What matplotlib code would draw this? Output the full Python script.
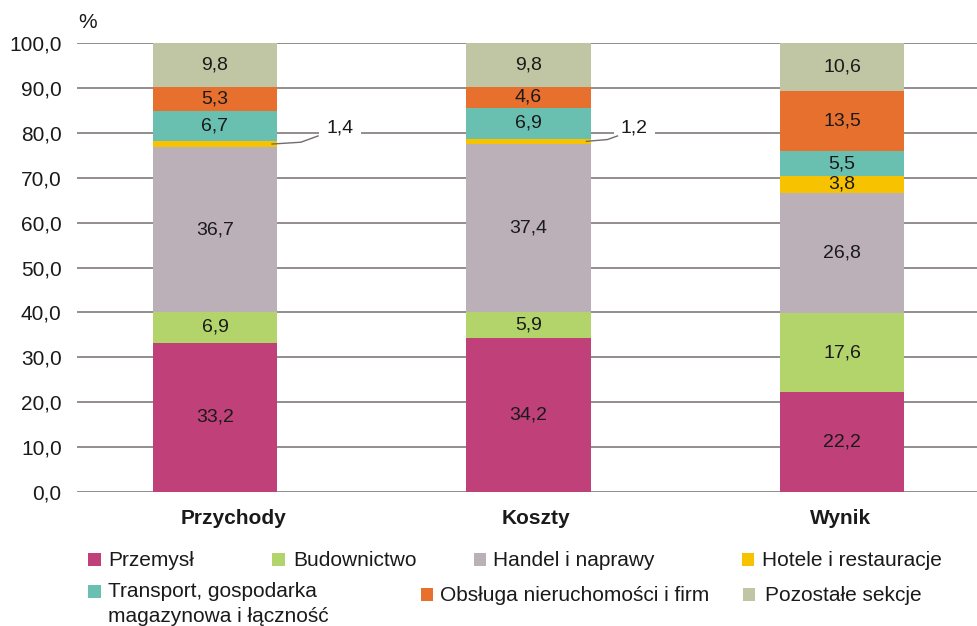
import matplotlib
matplotlib.use("Agg")
import matplotlib.pyplot as plt
from matplotlib.patches import Rectangle
import numpy as np

plt.rcParams['font.family'] = ['Liberation Sans', 'DejaVu Sans']

categories = ["Przychody", "Koszty", "Wynik"]
series_names = ["Przemysł", "Budownictwo", "Handel i naprawy", "Hotele i restauracje",
                "Transport, gospodarka\nmagazynowa i łączność", "Obsługa nieruchomości i firm",
                "Pozostałe sekcje"]
przemysl = [33.2, 34.2, 22.2]
budownictwo = [6.9, 5.9, 17.6]
handel = [36.7, 37.4, 26.8]
hotele = [1.4, 1.2, 3.8]
transport = [6.7, 6.9, 5.5]
obsluga = [5.3, 4.6, 13.5]
pozostale = [9.8, 9.8, 10.6]
yticks = [0, 10, 20, 30, 40, 50, 60, 70, 80, 90, 100]

series = [przemysl, budownictwo, handel, hotele, transport, obsluga, pozostale]
colors = ["#c0407a", "#b3d36b", "#bcb0b8", "#f7c200", "#6ac0b0", "#e8702e", "#c0c5a3"]
TXT = "#1a1a1a"

W, H = 978, 626
fig = plt.figure(figsize=(W / 100, H / 100), dpi=100)
ax = fig.add_axes([77 / W, (H - 492) / H, (978 - 77) / W, 449 / H])

x = np.arange(len(categories))
bw = 0.396
bottom = np.zeros(len(categories))
for vals, col in zip(series, colors):
    ax.bar(x, vals, bw, bottom=bottom, color=col, zorder=2)
    for i, v in enumerate(vals):
        if v >= 3:
            ax.text(x[i], bottom[i] + v / 2, f"{v:.1f}".replace(".", ","),
                    ha="center", va="center", fontsize=14, color=TXT, zorder=3)
    bottom += np.array(vals)

# callouts for small hotel segments
base = np.array(przemysl) + np.array(budownictwo) + np.array(handel)
for i, (x0, x1, x2, xt) in zip([0, 1], [(0.182, 0.274, 0.329, 0.399), (0.185, 0.252, 0.284, 0.338)]):
    ymid = base[i] + hotele[i] / 2
    ax.plot([x[i] + x0, x[i] + x1, x[i] + x2], [ymid, ymid + 0.4, 79.3],
            color="#6e6e6e", lw=1.0, zorder=4)
    ax.text(x[i] + xt, 81.1, f"{hotele[i]:.1f}".replace(".", ","), ha="center", va="center",
            fontsize=14, color=TXT, zorder=3,
            bbox=dict(facecolor="white", edgecolor="none", pad=5))

ax.set_xlim(-0.440, 2.434)
ax.set_ylim(0, 100)
ax.set_yticks(yticks)
ax.set_yticklabels([f"{t:.1f}".replace(".", ",") for t in yticks], fontsize=15, color=TXT)
ax.set_xticks([])
ax.tick_params(axis="both", length=0)
ax.tick_params(axis="y", pad=11)
ax.grid(axis="y", color="#8a8583", lw=1.3, zorder=0)
ax.set_axisbelow(True)
for s in ax.spines.values():
    s.set_visible(False)

# category labels (slightly offset as in reference)
cat_offsets = [0.06, 0.025, -0.006]
for i, (c, off) in enumerate(zip(categories, cat_offsets)):
    ax.text(x[i] + off, -6.0, c, ha="center", va="center", fontsize=15,
            fontweight="bold", color=TXT, clip_on=False)

fig.text(78 / W, 1 - 22 / H, "%", fontsize=15, color=TXT, va="center", ha="left")

# manual legend: (marker x, marker top y, text x, text baseline y)
legend_pos = [
    (88, 553, 108, 566), (272, 553, 293, 566), (474, 553, 493, 566), (742, 553, 762, 566),
    (88, 585, 108, 597), (421, 588, 440, 601), (743, 588, 765, 601),
]
for (mx, my, tx, ty), name, col in zip(legend_pos, series_names, colors):
    fig.patches.append(Rectangle((mx / W, 1 - (my + 12.5) / H), 12.5 / W, 12.5 / H,
                                 transform=fig.transFigure, facecolor=col, edgecolor="none"))
    for k, line in enumerate(name.split("\n")):
        fig.text(tx / W, 1 - (ty + 25 * k) / H, line, fontsize=15, color=TXT,
                 ha="left", va="baseline")

fig.savefig("out.png", dpi=100)
